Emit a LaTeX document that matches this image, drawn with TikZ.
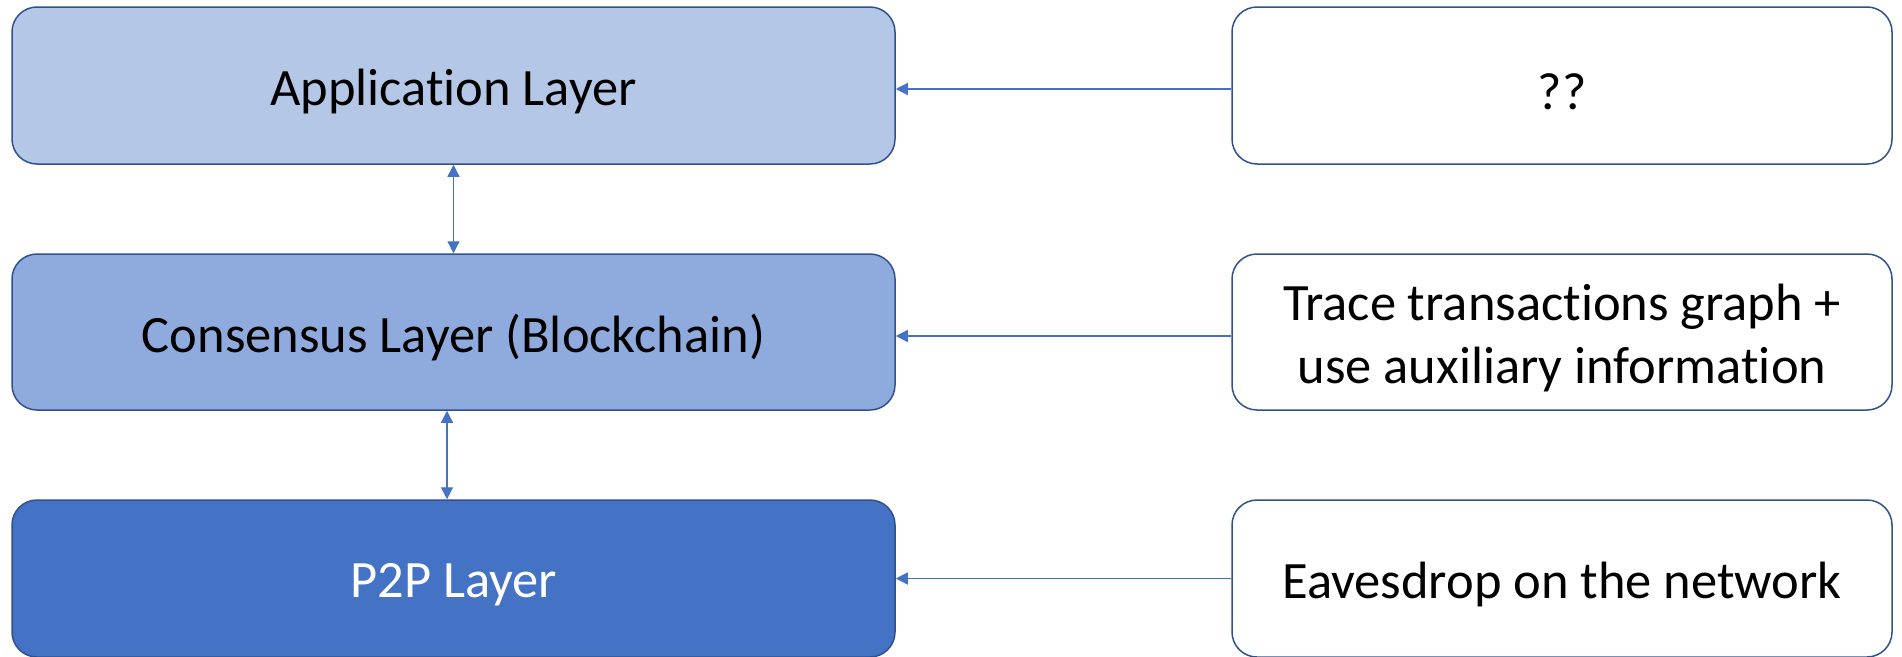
\documentclass[tikz,border=0pt]{standalone}
\usepackage{fontspec}
\setmainfont[Ligatures=NoCommon]{Carlito}
\usetikzlibrary{arrows.meta}

\definecolor{borderblue}{HTML}{2F528F}
\definecolor{linkblue}{HTML}{4472C4}
\definecolor{appfill}{HTML}{B4C7E7}
\definecolor{consfill}{HTML}{8FAADC}
\definecolor{ptpfill}{HTML}{4472C4}

\tikzset{
  layerbox/.style={draw=borderblue, line width=1.5pt, rounded corners=25pt,
    minimum width=883pt, minimum height=157pt, inner sep=0pt},
  attackbox/.style={layerbox, fill=white, minimum width=660pt},
  boxtext/.style={inner sep=0pt, align=center, font=\fontsize{52.5}{63}\selectfont},
  link/.style={draw=linkblue, line width=1.3pt,
    -{Triangle[length=12pt,width=12pt]}},
  biglink/.style={link, {Triangle[length=12pt,width=12pt]}-{Triangle[length=12pt,width=12pt]}}
}

\begin{document}
\begin{tikzpicture}[x=1pt,y=-1pt]
  \useasboundingbox (0,0) rectangle (1902,656);

  % protocol stack
  \node[layerbox, fill=appfill] (app) at (453.5,85.5) {};
  \node[layerbox, fill=consfill, minimum height=156pt] (cons) at (453.5,332) {};
  \node[layerbox, fill=ptpfill] (p2p) at (453.5,578.5) {};
  \node[boxtext] (appt) at ([yshift=-6pt]app.center) {Application Layer};
  \node[boxtext] (const) at ([yshift=-6pt]cons.center) {Consensus Layer (Blockchain)};
  \node[boxtext, text=white] (p2pt) at ([yshift=-6pt]p2p.center) {P2P Layer};

  % attacks on each layer
  \node[attackbox] (q) at (1562,85.5) {};
  \node[attackbox, minimum height=156pt] (trace) at (1562,332) {};
  \node[attackbox] (eaves) at (1562,578.5) {};
  \node[boxtext] (qt) at ([yshift=-6pt]q.center) {??};
  \node[boxtext] (tracet) at ([yshift=-6pt]trace.center) {Trace transactions graph +\\use auxiliary information};
  \node[boxtext] (eavest) at ([yshift=-6pt]eaves.center) {Eavesdrop on the network};

  % links between layers
  \draw[biglink] (app.south) -- (cons.north);
  \draw[biglink] ([xshift=-6.5pt]cons.south) -- ([xshift=-6.5pt]p2p.north);

  % attacks pointing at their layer
  \draw[link] ([yshift=-3.5pt]q.west) -- ([yshift=-3.5pt]app.east);
  \draw[link] ([yshift=-4pt]trace.west) -- ([yshift=-4pt]cons.east);
  \draw[link] (eaves.west) -- (p2p.east);
\end{tikzpicture}
\end{document}
